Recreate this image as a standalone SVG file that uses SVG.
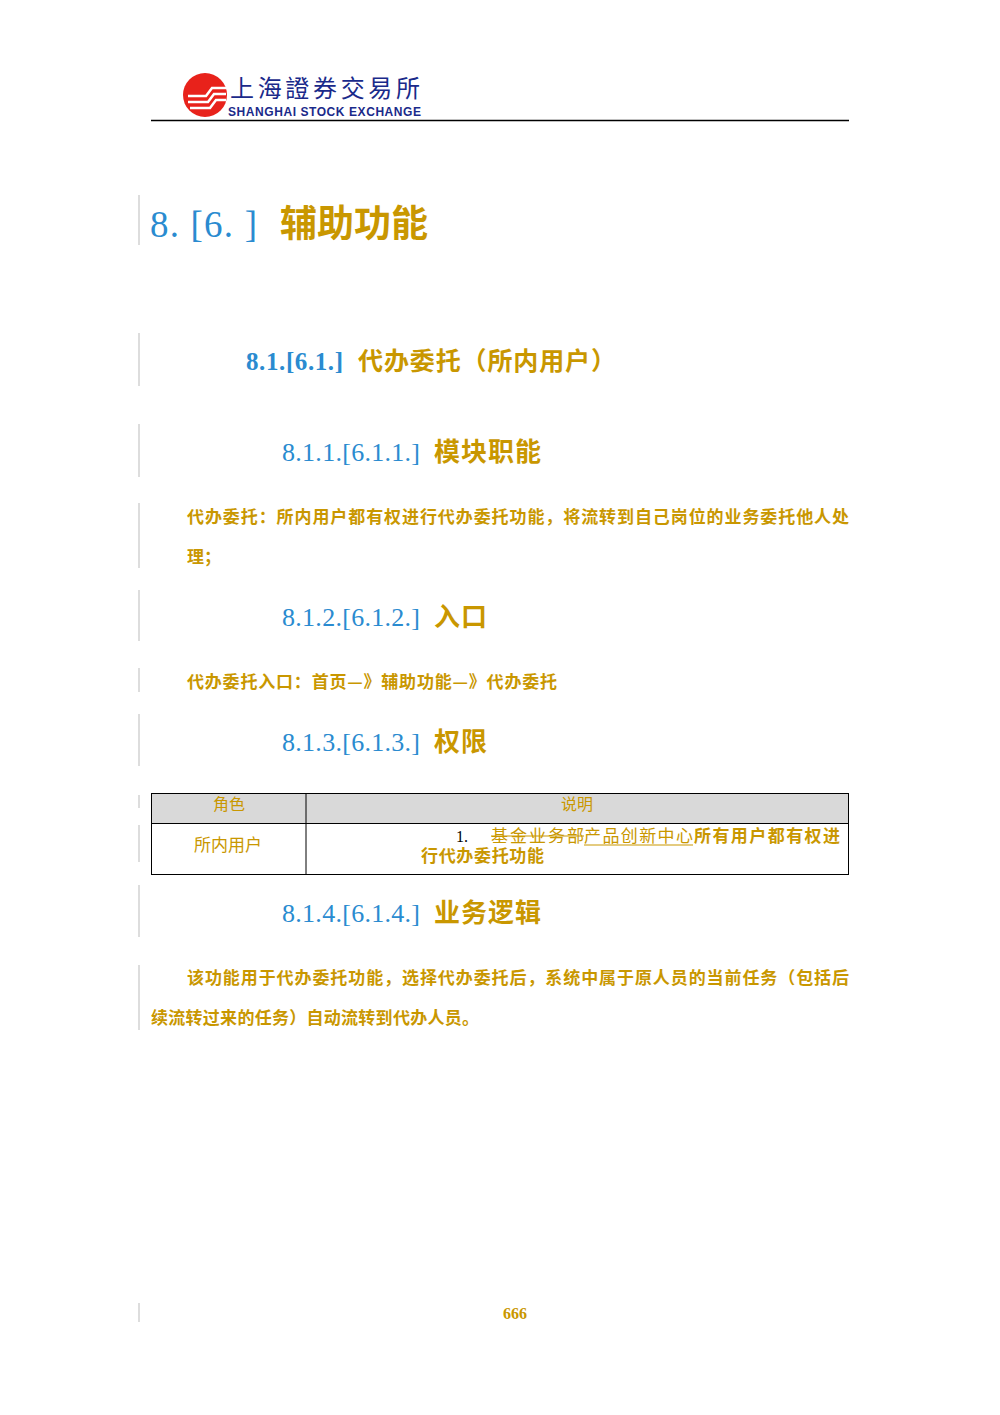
<svg xmlns="http://www.w3.org/2000/svg" width="1000" height="1415" viewBox="0 0 1000 1415">
<style>
.b{fill:#2a8bd0;font-family:"Liberation Serif","Noto Sans CJK SC",serif}
.g{fill:#c99700;font-family:"Noto Sans CJK SC",sans-serif;font-weight:bold}
.gs{fill:#c99700;font-family:"Liberation Serif","Noto Sans CJK SC",serif}
.bar{stroke:#bbb;stroke-width:1}
</style>
<rect width="1000" height="1415" fill="#fff"/>
<g id="logo">
<circle cx="205" cy="95" r="22" fill="#e8221b"/>
<path d="M188 96h18l6-8h14M188 102h20l6-8h12M190 108h20l6-8h10" fill="none" stroke="#fff" stroke-width="2.5"/>
<text x="230" y="97" font-family="Noto Sans CJK SC,serif" font-size="24" fill="#1a2a8a" textLength="190" lengthAdjust="spacing">上海證券交易所</text>
<text x="228" y="116" font-family="Liberation Sans,sans-serif" font-size="12" font-weight="bold" fill="#1a2a8a" textLength="193" lengthAdjust="spacing">SHANGHAI  STOCK  EXCHANGE</text>
<line x1="151" y1="120.5" x2="849" y2="120.5" stroke="#000" stroke-width="1.5"/>
</g>
<g id="bars" class="bar">
<line x1="139" y1="195" x2="139" y2="245"/><line x1="139" y1="333" x2="139" y2="386"/>
<line x1="139" y1="424" x2="139" y2="477"/><line x1="139" y1="503" x2="139" y2="568"/>
<line x1="139" y1="590" x2="139" y2="641"/><line x1="139" y1="668" x2="139" y2="692"/>
<line x1="139" y1="714" x2="139" y2="766"/><line x1="139" y1="795" x2="139" y2="808"/>
<line x1="139" y1="825" x2="139" y2="862"/><line x1="139" y1="885" x2="139" y2="937"/>
<line x1="139" y1="965" x2="139" y2="1030"/><line x1="139" y1="1303" x2="139" y2="1322"/>
</g>
<g id="h1"><text x="150" y="237" font-size="37" class="b" textLength="107" lengthAdjust="spacing">8. [6. ]</text><text x="280" y="237" font-size="37" class="g" textLength="148">辅助功能</text></g>
<g id="h2"><text x="246" y="370" font-size="25" class="b" font-weight="bold" textLength="97">8.1.[6.1.]</text><text x="358" y="370" font-size="25" class="g" textLength="258">代办委托（所内用户）</text></g>
<g id="h3a"><text x="282" y="461" font-size="26" class="b" textLength="138">8.1.1.[6.1.1.]</text><text x="434" y="461" font-size="26" class="g" textLength="107">模块职能</text></g>
<text x="187" y="523" font-size="17" class="g" textLength="662">代办委托：所内用户都有权进行代办委托功能，将流转到自己岗位的业务委托他人处</text>
<text x="187" y="563" font-size="17" class="g">理；</text>
<g id="h3b"><text x="282" y="626" font-size="26" class="b" textLength="138">8.1.2.[6.1.2.]</text><text x="434" y="626" font-size="26" class="g" textLength="53">入口</text></g>
<text x="187" y="688" font-size="17" class="g" textLength="370">代办委托入口：首页—》辅助功能—》代办委托</text>
<g id="h3c"><text x="282" y="751" font-size="26" class="b" textLength="138">8.1.3.[6.1.3.]</text><text x="434" y="751" font-size="26" class="g" textLength="53">权限</text></g>
<g id="table">
<rect x="151.5" y="793.5" width="697" height="30" fill="#d9d9d9" stroke="#000"/>
<rect x="151.5" y="823.5" width="697" height="51" fill="#fff" stroke="#000"/>
<line x1="306" y1="793" x2="306" y2="875" stroke="#000"/>
<text x="229" y="810" font-size="16" class="gs" text-anchor="middle">角色</text>
<text x="577" y="810" font-size="16" class="gs" text-anchor="middle">说明</text>
<text x="228" y="851" font-size="17" class="gs" text-anchor="middle">所内用户</text>
<text x="456" y="842" font-size="16" font-family="Liberation Serif,serif">1.</text>
<text x="491" y="842" font-size="17" class="gs" textLength="93">基金业务部</text>
<line x1="491" y1="836" x2="584" y2="836" stroke="#c99700"/>
<text x="584" y="842" font-size="17" class="gs" textLength="109">产品创新中心</text>
<line x1="584" y1="845" x2="693" y2="845" stroke="#c99700"/>
<text x="694" y="842" font-size="17" class="g" textLength="146">所有用户都有权进</text>
<text x="421" y="862" font-size="17" class="g" textLength="123">行代办委托功能</text>
</g>
<g id="h3d"><text x="282" y="922" font-size="26" class="b" textLength="138">8.1.4.[6.1.4.]</text><text x="434" y="922" font-size="26" class="g" textLength="107">业务逻辑</text></g>
<text x="187" y="984" font-size="17" class="g" textLength="662">该功能用于代办委托功能，选择代办委托后，系统中属于原人员的当前任务（包括后</text>
<text x="151" y="1024" font-size="17" class="g" textLength="328">续流转过来的任务）自动流转到代办人员。</text>
<text x="515" y="1319" font-size="16" class="gs" font-weight="bold" text-anchor="middle">666</text>
</svg>
